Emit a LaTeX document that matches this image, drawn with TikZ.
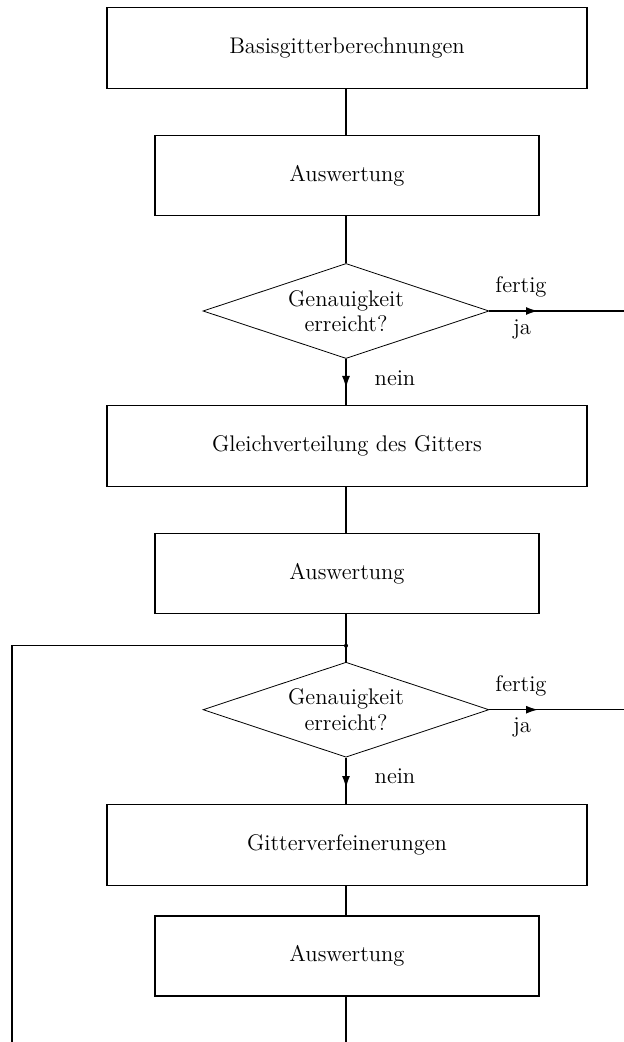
\documentclass[tikz,border=0pt]{standalone}
\usetikzlibrary{shapes.geometric,arrows.meta}
\tikzset{
  every node/.style={font=\fontsize{11.3}{12.8}\selectfont},
  widebox/.style={draw,line width=0.7pt,minimum width=240pt,minimum height=40.5pt,inner sep=0pt},
  narrowbox/.style={draw,line width=0.7pt,minimum width=192pt,minimum height=40pt,inner sep=0pt},
  decision/.style={draw,diamond,line width=0.4pt,minimum width=143pt,minimum height=47.5pt,inner sep=0pt,aspect=3,align=center},
  conn/.style={line width=0.7pt},
  arr/.style={line width=0.7pt,-{Latex[length=6pt,width=4pt]}},
  lbl/.style={inner sep=0pt}
}
\begin{document}
\begin{tikzpicture}[x=0.5pt,y=-0.5pt]
\useasboundingbox (0,0) rectangle (624,1042);
\node[widebox] (b1) at (347,48) {Basisgitterberechnungen};
\node[narrowbox] (b2) at (347,175.3) {Auswertung};
\node[decision] (d1) at (346,311) {Genauigkeit\\erreicht?};
\node[widebox] (b3) at (347,446.2) {Gleichverteilung des Gitters};
\node[narrowbox] (b4) at (347,573.5) {Auswertung};
\node[decision] (d2) at (346,709.7) {Genauigkeit\\erreicht?};
\node[widebox] (b5) at (347,845.2) {Gitterverfeinerungen};
\node[narrowbox] (b6) at (347,956) {Auswertung};

\coordinate (a1) at (538,311);
\coordinate (e1) at (624,311);
\coordinate (n1) at (346,388);
\coordinate (a2) at (538,709.7);
\coordinate (e2) at (624,709.7);
\coordinate (n2) at (346,788);
\coordinate (j) at (346,645.7);
\coordinate (lt) at (12,645.7);
\coordinate (lb) at (12,1042);
\coordinate (bb) at (346,1042);

\draw[conn] (b1.south -| d1.north) -- (b2.north -| d1.north);
\draw[conn] (b2.south -| d1.north) -- (d1.north);
\draw[conn] (d1.east) -- (e1);
\draw[arr] (d1.east) -- (a1);
\draw[conn] (d1.south) -- (b3.north -| d1.south);
\draw[arr] (d1.south) -- (n1);
\draw[conn] (b3.south -| d1.north) -- (b4.north -| d1.north);
\draw[conn] (b4.south -| j) -- (j) -- (d2.north);
\draw[conn] (j) -- (lt) -- (lb);
\fill (j) circle (2);
\draw[conn] (d2.east) -- (e2);
\draw[arr] (d2.east) -- (a2);
\draw[conn] (d2.south) -- (b5.north -| d2.south);
\draw[arr] (d2.south) -- (n2);
\draw[conn] (b5.south -| d2.north) -- (b6.north -| d2.north);
\draw[conn] (b6.south -| bb) -- (bb);

\node[lbl] (f1) at (521,287) {fertig};
\node[lbl] (y1) at (522,329) {ja};
\node[lbl] (no1) at (395,378) {nein};
\node[lbl] (f2) at (521,685.7) {fertig};
\node[lbl] (y2) at (522,727.7) {ja};
\node[lbl] (no2) at (395,776) {nein};
\end{tikzpicture}
\end{document}
